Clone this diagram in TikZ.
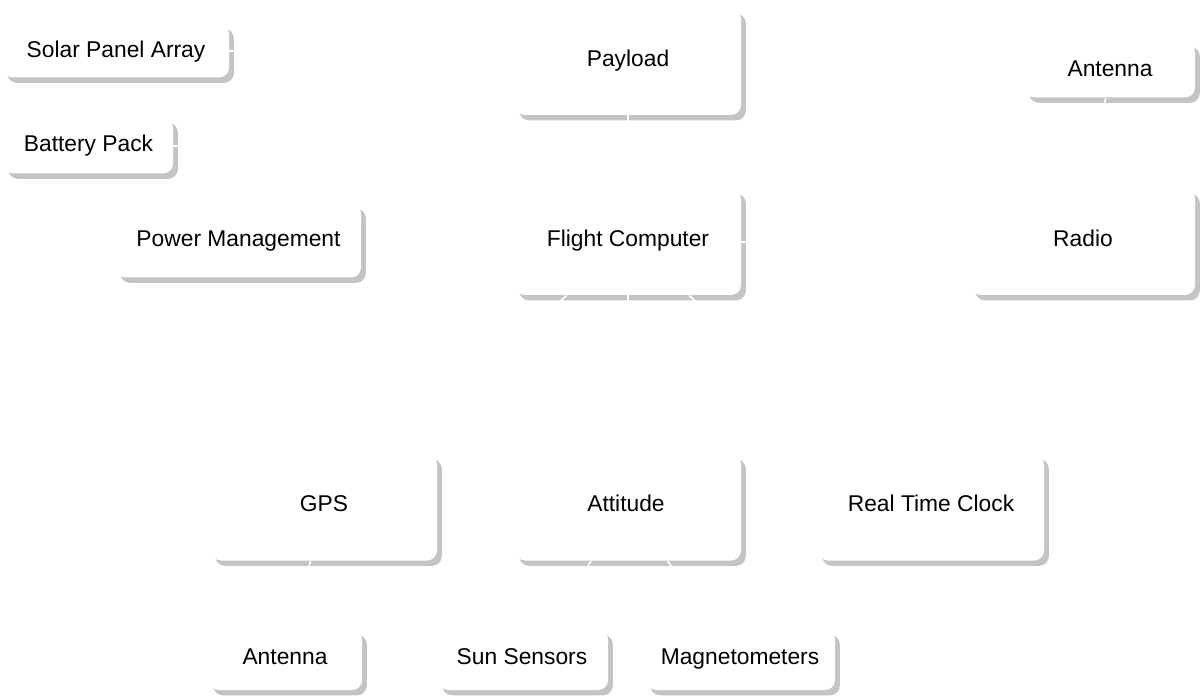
\documentclass[tikz,border=0pt]{standalone}
\usepackage{fontspec}
\setmainfont{Liberation Sans}
\pgfdeclarelayer{shadowlayer}
\pgfdeclarelayer{edgelayer}
\pgfsetlayers{shadowlayer,edgelayer,main}
\definecolor{shadowgray}{HTML}{C4C4C4}
\tikzset{
  box/.style={rectangle, rounded corners=5pt, fill=white, draw=none, inner sep=0pt},
  lbl/.style={inner sep=0pt, text height=8.1pt, text depth=0pt, font=\fontsize{11.4}{13}\selectfont, text=black},
  shadowfill/.style={fill=shadowgray, rounded corners=5pt},
  edge/.style={draw=white, line width=0.8pt}
}
\begin{document}
\begin{tikzpicture}[x=0.5pt, y=-0.5pt]
\useasboundingbox (0,0) rectangle (1204,699);

% boxes
\node[box, minimum width=113pt,  minimum height=26.75pt] (solar)   at (116,50.75)   {};
\node[box, minimum width=84.5pt, minimum height=27.75pt] (battery) at (88.5,145.75) {};
\node[box, minimum width=122.5pt,minimum height=36.75pt] (pm)      at (238.5,240.75){};
\node[box, minimum width=113pt,  minimum height=53pt]    (pay)     at (628,62)      {};
\node[box, minimum width=85pt,   minimum height=27.75pt] (antA)    at (1110,69.75)  {};
\node[box, minimum width=113pt,  minimum height=53pt]    (fc)      at (628,242)     {};
\node[box, minimum width=112pt,  minimum height=53pt]    (radio)   at (1083,242)    {};
\node[box, minimum width=113pt,  minimum height=53pt]    (gps)     at (324,507.5)   {};
\node[box, minimum width=113pt,  minimum height=53pt]    (att)     at (628,507.5)   {};
\node[box, minimum width=113pt,  minimum height=53pt]    (rtc)     at (931,507.5)   {};
\node[box, minimum width=76.5pt, minimum height=30pt]    (antB)    at (285.5,660)   {};
\node[box, minimum width=85pt,   minimum height=30pt]    (sun)     at (523,660)     {};
\node[box, minimum width=94.5pt, minimum height=30pt]    (mag)     at (740.5,660)   {};

% labels
\node[lbl] (solarT)   at (116,49)   {Solar Panel Array};
\node[lbl] (batteryT) at (88.5,143) {Battery Pack};
\node[lbl] (pmT)      at (238.5,238){Power Management};
\node[lbl] (payT)     at (628,58)   {Payload};
\node[lbl] (antAT)    at (1110,68)  {Antenna};
\node[lbl] (fcT)      at (628,238)  {Flight Computer};
\node[lbl] (radioT)   at (1083,238) {Radio};
\node[lbl] (gpsT)     at (324,503)  {GPS};
\node[lbl] (attT)     at (626,503)  {Attitude};
\node[lbl] (rtcT)     at (931,503)  {Real Time Clock};
\node[lbl] (antBT)    at (285,656)  {Antenna};
\node[lbl] (sunT)     at (522,656)  {Sun Sensors};
\node[lbl] (magT)     at (740,656)  {Magnetometers};

% background and shadows
\begin{pgfonlayer}{shadowlayer}
\fill[white] (0,0) rectangle (1204,699);
\foreach \n in {solar,battery,pm,pay,antA,fc,radio,gps,att,rtc,antB,sun,mag}{
  \fill[shadowfill] ([shift={(4.5,5)}]\n.north west) rectangle ([shift={(4.5,5)}]\n.south east);
}
\end{pgfonlayer}

% connectors (white, visible only where they cross the shadows)
\begin{pgfonlayer}{edgelayer}
\draw[edge] (fc) -- (pay);
\draw[edge] (fc) -- (radio);
\draw[edge] (radio) -- (antA);
\draw[edge] (fc) -- (gps);
\draw[edge] (fc) -- (att);
\draw[edge] (fc) -- (rtc);
\draw[edge] (gps) -- (antB);
\draw[edge] (att) -- (sun);
\draw[edge] (att) -- (mag);
\draw[edge] (solar) -| (pm);
\draw[edge] (battery) -| (pm);
\end{pgfonlayer}
\end{tikzpicture}
\end{document}
